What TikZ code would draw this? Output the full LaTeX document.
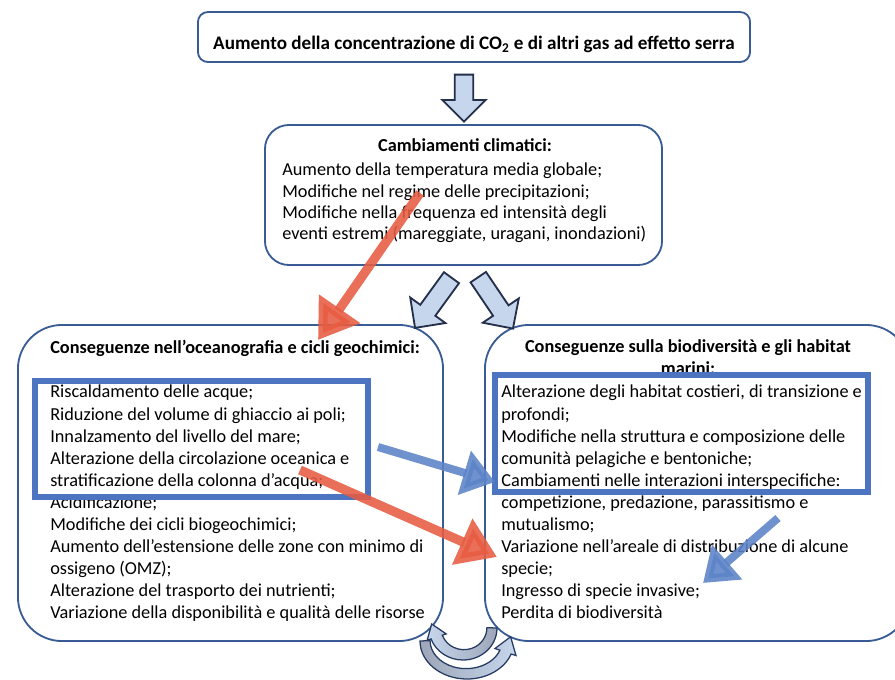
\documentclass[tikz,border=0pt]{standalone}
\usepackage{fontspec}
\setmainfont{Carlito}
\usetikzlibrary{shapes.arrows,arrows.meta}

\definecolor{boxblue}{RGB}{58,92,148}
\definecolor{hiblue}{RGB}{76,116,192}
\definecolor{arrowfill}{RGB}{198,214,236}
\definecolor{arrowline}{RGB}{35,47,75}
\definecolor{redarr}{RGB}{232,92,66}
\definecolor{bluearr}{RGB}{92,132,200}
\definecolor{cycdark}{RGB}{38,58,98}

\tikzset{
  box/.style={draw=boxblue, line width=1.3pt, rounded corners=#1, inner sep=0pt},
  box/.default=0.6cm,
  listtext/.style={align=left, inner sep=0pt, anchor=north west, font=\fontsize{13}{15.7}\selectfont},
  titletext/.style={inner sep=0pt, font=\fontsize{13}{16}\selectfont\bfseries},
  hilite/.style={draw=hiblue, line width=0.15cm},
  blockarrow/.style={single arrow, draw=arrowline, fill=arrowfill, line width=1.3pt,
    inner sep=0.21cm, single arrow head extend=0.31cm},
  redarrow/.style={draw=redarr, line width=0.23cm, opacity=0.88,
    -{Triangle[length=0.95cm, width=1.2cm]}},
  bluearrow/.style={draw=bluearr, line width=0.2cm, opacity=0.88,
    -{Triangle[length=0.8cm, width=1.1cm]}},
  cycle/.style={draw=cycdark, line width=0.9pt}
}

\begin{document}
\begin{tikzpicture}[x=0.025cm, y=-0.025cm]
        \clip (0,0) rectangle (895,679);
        \fill[white] (0,0) rectangle (895,679);

        % Boxes
        \node (co2) [box=0.25cm, minimum width=13.8cm, minimum height=1.25cm] at (474,37) {};
        \node (clima) [box, minimum width=9.925cm, minimum height=3.5cm] at (463.5,195) {};
        \node (oceano) [box=1.1cm, minimum width=10.625cm, minimum height=7.9cm] at (230.5,483) {};
        \node (biodiv) [box=1.1cm, minimum width=10.625cm, minimum height=7.9cm] at (697.5,483) {};

        % Texts
        \node (co2txt) [titletext, font=\fontsize{13.6}{16}\selectfont\bfseries] at (474,44) {Aumento della concentrazione di CO\textsubscript{2} e di altri gas ad effetto serra};
        \node (climatit) [titletext, anchor=base] at (465,151) {Cambiamenti climatici:};
        \node (climatxt) [listtext, font=\fontsize{13}{15}\selectfont] at (282,163) {Aumento della temperatura media globale;\\
          Modifiche nel regime delle precipitazioni;\\
          Modifiche nella frequenza ed intensità degli\\
          eventi estremi (mareggiate, uragani, inondazioni)};
        \node (oceanotit) [titletext, anchor=base west] at (50,353) {Conseguenze nell’oceanografia e cicli geochimici:};
        \node (oceanotxt) [listtext] at (50,385) {Riscaldamento delle acque;\\
          Riduzione del volume di ghiaccio ai poli;\\
          Innalzamento del livello del mare;\\
          Alterazione della circolazione oceanica e\\
          stratificazione della colonna d’acqua;\\
          Acidificazione;\\
          Modifiche dei cicli biogeochimici;\\
          Aumento dell’estensione delle zone con minimo di\\
          ossigeno (OMZ);\\
          Alterazione del trasporto dei nutrienti;\\
          Variazione della disponibilità e qualità delle risorse};
        \node (biodivtit) [titletext, align=center, anchor=north] at (688,339) {Conseguenze sulla biodiversità e gli habitat\\ marini:};
        \node (biodivtxt) [listtext] at (501,385) {Alterazione degli habitat costieri, di transizione e\\
          profondi;\\
          Modifiche nella struttura e composizione delle\\
          comunità pelagiche e bentoniche;\\
          Cambiamenti nelle interazioni interspecifiche:\\
          competizione, predazione, parassitismo e\\
          mutualismo;\\
          Variazione nell’areale di distribuzione di alcune\\
          specie;\\
          Ingresso di specie invasive;\\
          Perdita di biodiversità};

        % Highlights
        \draw[hilite] (35,381) rectangle (368,497);
        \draw[hilite] (495,375) rectangle (868,492);

        % Block arrows
        \node (down1) [blockarrow, minimum height=1.175cm, rotate=-90] at (464,93.5) {};
        \node (downl) [blockarrow, minimum height=1.55cm, rotate=-126] at (436,299) {};
        \node (downr) [blockarrow, minimum height=1.55cm, rotate=-56] at (493,299) {};

        % Cycle arrows
        \draw[cycle, left color=cycdark!45, right color=arrowfill]
          (420,641) arc[start angle=180, end angle=20, x radius=47, y radius=38]
          -- (516,655.5) -- (510.6,636.8) -- (495,648.5) -- (499.9,650.2)
          arc[start angle=20, end angle=180, x radius=36, y radius=28] -- cycle;
        \draw[cycle, left color=arrowfill, right color=cycdark!45]
          (497,628) arc[start angle=0, end angle=160, x radius=34, y radius=32]
          -- (427.2,640.1) -- (431.7,624) -- (446.2,633.9) -- (442.3,635.2)
          arc[start angle=160, end angle=0, x radius=23, y radius=22] -- cycle;

        % Edges
        \coordinate (r1s) at (420,193);
        \coordinate (r1e) at (318,340);
        \coordinate (r2s) at (300,470);
        \coordinate (r2e) at (497,557);
        \coordinate (b1s) at (378,447);
        \coordinate (b1e) at (495,482);
        \coordinate (b2s) at (778,518);
        \coordinate (b2e) at (703,583);
        \draw[redarrow] (r1s) -- (r1e);
        \draw[redarrow] (r2s) -- (r2e);
        \draw[bluearrow] (b1s) -- (b1e);
        \draw[bluearrow] (b2s) -- (b2e);
\end{tikzpicture}
\end{document}
